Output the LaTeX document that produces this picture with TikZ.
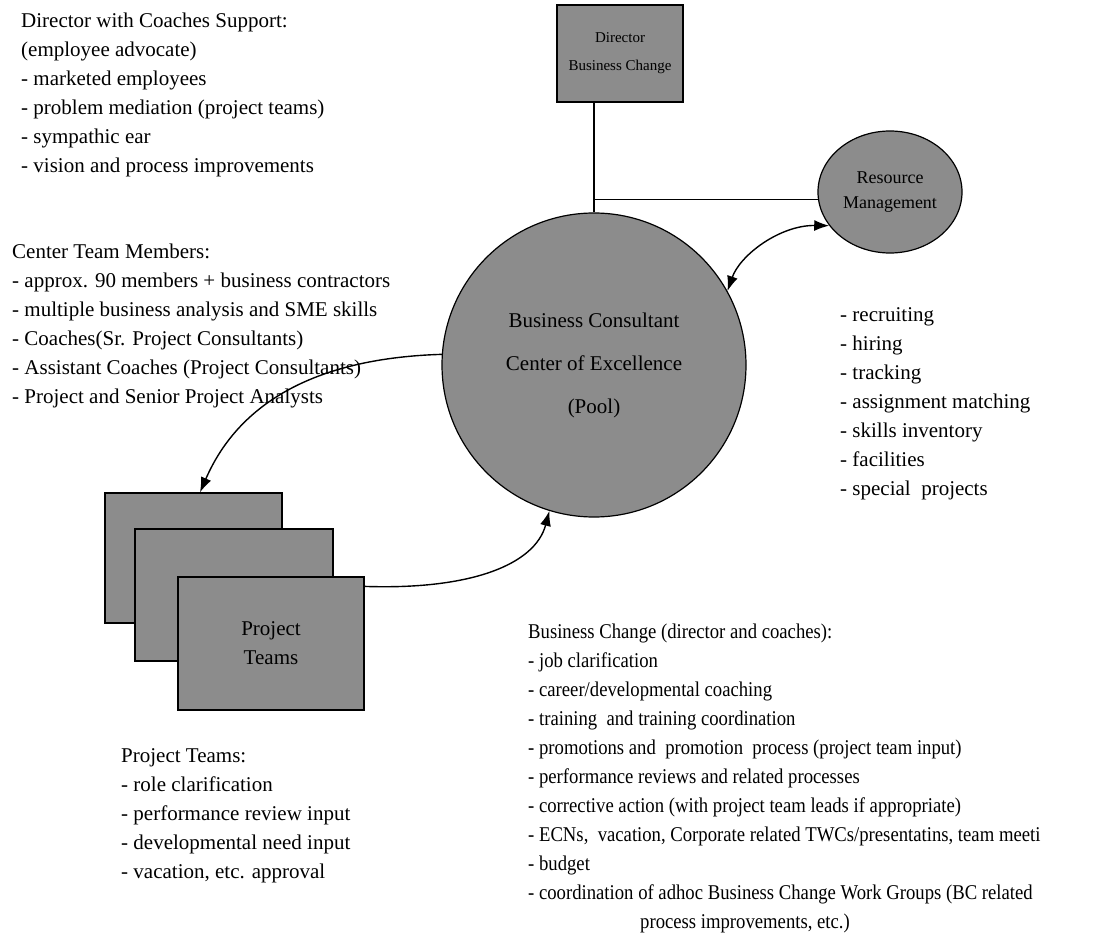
\documentclass[tikz,border=0pt]{standalone}
\usepackage{fontspec}
\setmainfont{Liberation Serif}
\newfontfamily\narrowserif{Liberation Serif}[FakeStretch=0.89]
\usetikzlibrary{positioning,shapes.geometric,arrows.meta}

\begin{document}
\begin{tikzpicture}[x=1pt,y=-1pt,>={Latex[length=15pt,width=11pt]},
    every node/.style={font=\fontsize{21}{29}\selectfont},
    shade/.style={draw,line width=1.2pt,fill=black!45,inner sep=0pt,align=center},
    note/.style={anchor=north west,inner sep=0pt,align=left}]
  \useasboundingbox (0,0) rectangle (1101,936);

  % shapes
  \node[shade,minimum width=126pt,minimum height=97pt,font=\fontsize{15}{28}\selectfont] (dir) at (620,53.5) {Director\\Business Change};
  \node[shade,circle,minimum size=304pt,font=\fontsize{21}{43}\selectfont] (pool) at (594,365) {Business Consultant\\Center of Excellence\\(Pool)};
  \node[shade,ellipse,minimum width=144pt,minimum height=122pt,font=\fontsize{18}{25}\selectfont] (res) at (890,192) {Resource\\Management};
  \node[shade,minimum width=177pt,minimum height=130pt] (pt1) at (193.5,558) {};
  \node[shade,minimum width=198pt,minimum height=132pt] (pt2) at (234,595) {};
  \node[shade,minimum width=186pt,minimum height=133pt] (pt3) at (271,643.5) {Project\\Teams};

  % notes
  \node[note] (dirnote) at (21,12.5) {Director with Coaches Support:\\(employee advocate)\\- marketed employees\\- problem mediation (project teams)\\- sympathic ear\\- vision and process improvements};
  \node[note] (centernote) at (12,243.5) {Center Team Members:\\- approx. 90 members + business contractors\\- multiple business analysis and SME skills\\- Coaches(Sr. Project Consultants)\\- Assistant Coaches (Project Consultants)\\- Project and Senior Project Analysts};
  \node[note] (resnote) at (840,307.5) {- recruiting\\- hiring\\- tracking\\- assignment matching\\- skills inventory\\- facilities\\- special\ \ projects};
  \node[note,font=\narrowserif\fontsize{21}{29}\selectfont] (bcnote) at (528,623.5) {Business Change (director and coaches):\\- job clarification\\- career/developmental coaching\\- training\ \ and training coordination\\- promotions and\ \ promotion\ \ process (project team input)\\- performance reviews and related processes\\- corrective action (with project team leads if appropriate)\\- ECNs,\ \ vacation, Corporate related TWCs/presentatins, team meeti\\- budget\\- coordination of adhoc Business Change Work Groups (BC related\\\hspace{112pt}process improvements, etc.)};
  \node[note] (ptnote) at (121,748.5) {Project Teams:\\- role clarification\\- performance review input\\- developmental need input\\- vacation, etc. approval};

  % connectors
  \draw[line width=1.2pt] (dir.south -| pool.north) -- (pool.north);
  \draw[line width=1.2pt] (res.186) -- (res.186 -| pool.north);
  \draw[<->,line width=1.4pt] (pool.29) .. controls (740,255) and (780,225) .. (res.209);
  \draw[->,line width=1.4pt] (pool.176) .. controls (320,358) and (240,400) .. ([xshift=6.5pt]pt1.north);
  \draw[->,line width=1.4pt] ([yshift=-10pt]pt3.north east) .. controls (470,590) and (535,565) .. (pool.253);
\end{tikzpicture}
\end{document}
